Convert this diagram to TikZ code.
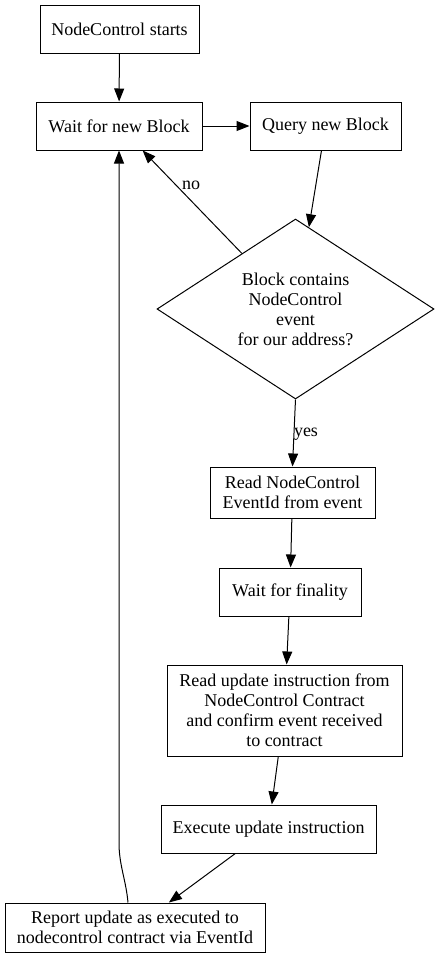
\documentclass[tikz,border=0pt]{standalone}
\usepackage{fontspec}
\setmainfont{Liberation Serif}
\usetikzlibrary{arrows.meta,
                shapes.geometric}

\tikzset{
  box/.style={draw,rectangle,line width=1pt,align=center,inner sep=0pt,
              font=\fontsize{18}{20}\selectfont},
  decision/.style={draw,diamond,line width=1pt,align=center,inner sep=0pt,
              aspect=1.54,minimum width=277pt,minimum height=180pt,
              font=\fontsize{18}{20}\selectfont},
  flow/.style={-{Triangle[length=13pt,width=10pt]},line width=1pt},
  lbl/.style={font=\fontsize{18}{20}\selectfont}
}

\begin{document}
\begin{tikzpicture}[x=1pt,y=-1pt]
\useasboundingbox (0,0) rectangle (439,959);
% steps
\node[box,minimum width=159,minimum height=48] (start) at (119.5,29) {NodeControl starts};
\node[box,minimum width=166,minimum height=48] (wait) at (119,126) {Wait for new Block};
\node[box,minimum width=151,minimum height=48] (query) at (325.5,126) {Query new Block};
\node[decision] (check) at (295.5,309) {Block contains\\NodeControl\\event\\for our address?};
\node[box,minimum width=165,minimum height=51] (readid) at (292.5,492.5) {Read NodeControl\\EventId from event};
\node[box,minimum width=142,minimum height=48] (final) at (290,592) {Wait for finality};
\node[box,minimum width=235,minimum height=91] (readupd) at (284.5,710.5) {Read update instruction from\\NodeControl Contract\\and confirm event received\\to contract};
\node[box,minimum width=215,minimum height=48] (exec) at (268.5,829) {Execute update instruction};
\node[box,minimum width=260,minimum height=49] (report) at (135,927.5) {Report update as executed to\\nodecontrol contract via EventId};
\coordinate (back) at (119,843);
% arrows
\path[flow] (start) edge (wait)
            (wait) edge (query)
            (query) edge (check)
            (check) edge (wait)
            (readid) edge (final)
            (final) edge (readupd)
            (readupd) edge (exec)
            (exec) edge (report);
\draw[flow] (check.south) -- (readid.north);
\draw[flow] ([xshift=-7pt]report.north) .. controls (126,880) and (119,865) .. (back) -- (wait);
\node[lbl] (no) at (191,185) {no};
\node[lbl] (yes) at (306,434) {yes};
\end{tikzpicture}
\end{document}
